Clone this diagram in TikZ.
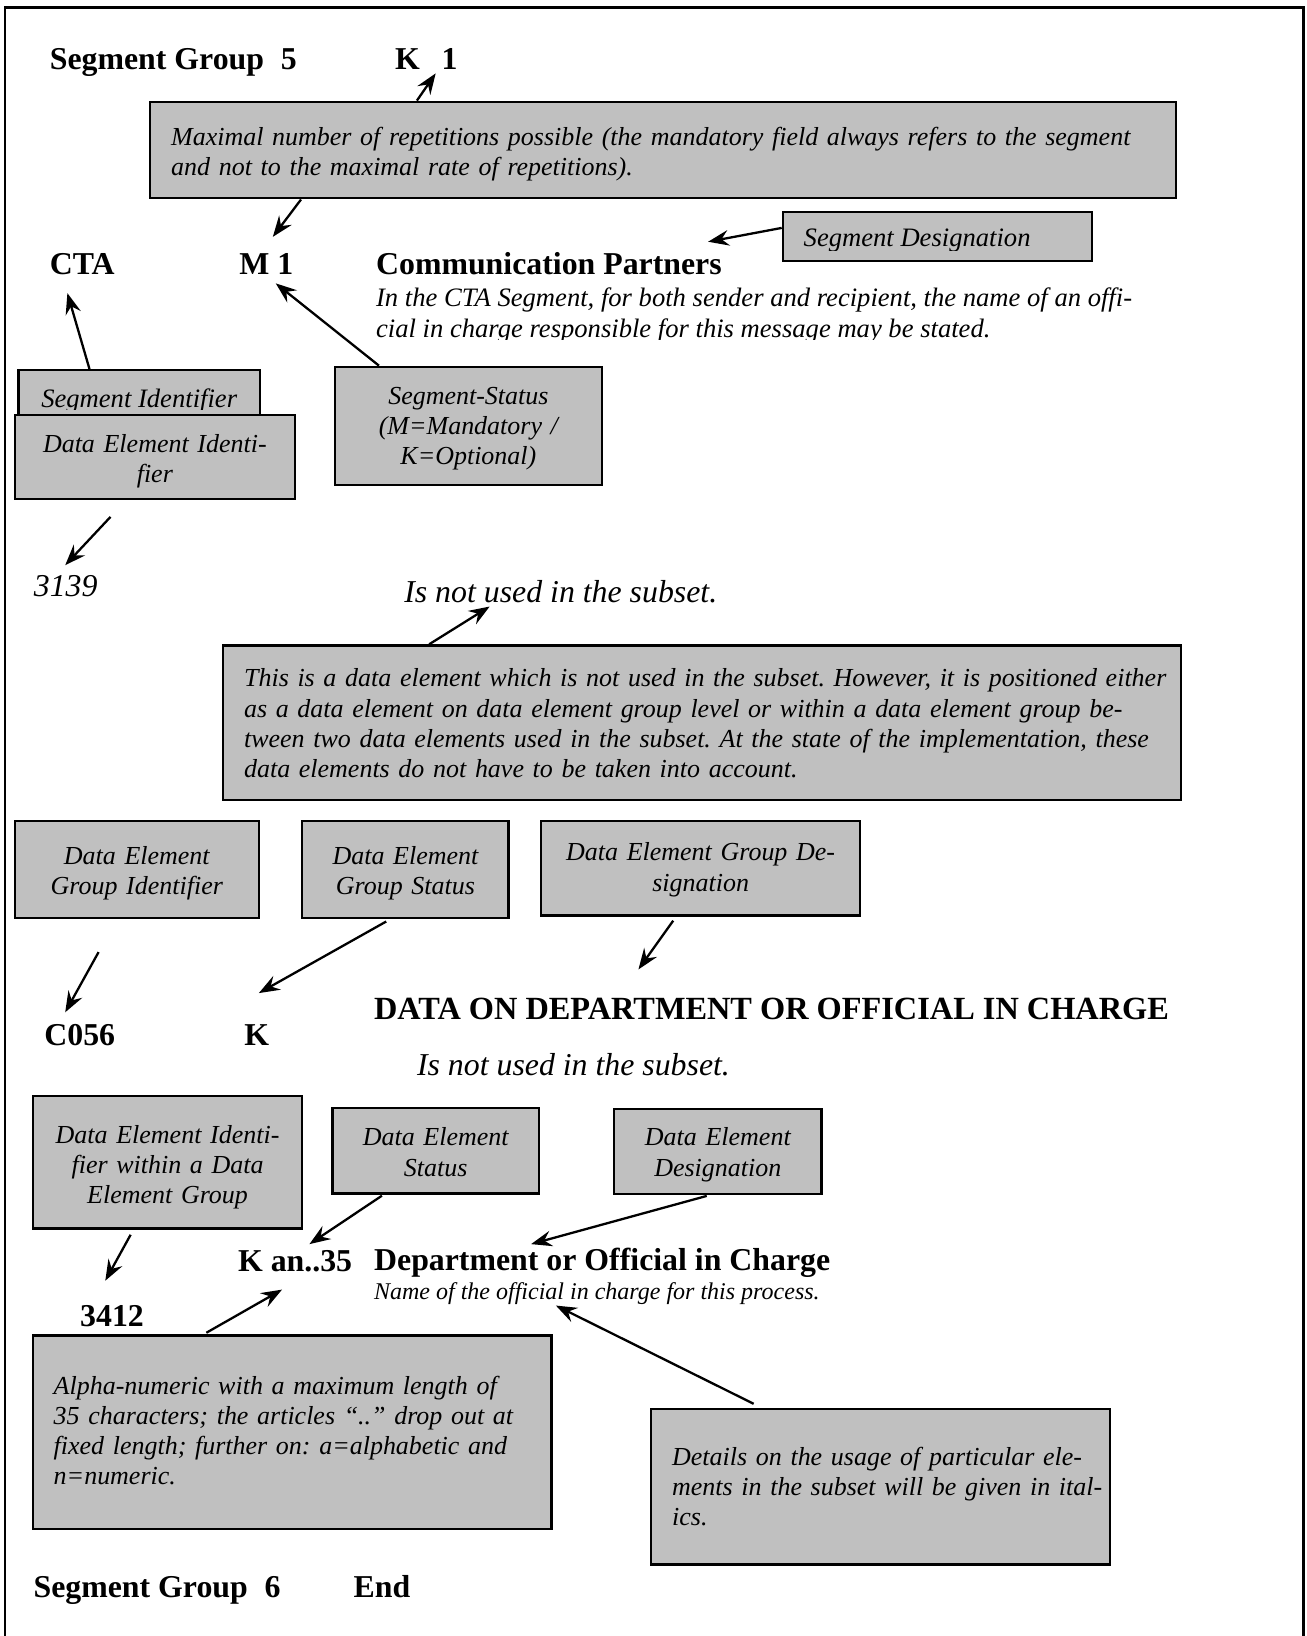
\documentclass[tikz,border=0pt]{standalone}
\usepackage{fontspec}
\setmainfont{Liberation Serif}
\usetikzlibrary{arrows.meta,calc}
\definecolor{boxgray}{RGB}{192,192,192}
\newcommand\hdfont{\fontsize{30.5pt}{34pt}\selectfont\bfseries}
\newcommand\bxfont{\fontsize{24.9pt}{29pt}\selectfont\itshape}
\newcommand\dsfont{\fontsize{25.5pt}{29pt}\selectfont\itshape}
\newcommand\bigitfont{\fontsize{30.5pt}{34pt}\selectfont\itshape}
\newcommand\smitfont{\fontsize{23pt}{27pt}\selectfont\itshape}
\frenchspacing
\tikzset{
  lbl/.style={inner sep=0pt, anchor=base west},
  hd/.style={lbl, font=\hdfont},
  bit/.style={lbl, font=\bigitfont},
  gbox/.style={draw, line width=2.2pt, fill=boxgray, inner sep=0pt, font=\bxfont, text height=30pt},
  cbox/.style={gbox, align=center},
  lbox/.style={gbox, align=left, inner xsep=20pt},
  ebox/.style={draw, line width=2.2pt, fill=boxgray, inner sep=0pt},
  arr/.style={line width=2.2pt, -{Stealth[length=20pt,width=15pt,inset=7pt]}},
  frame/.style={line width=2.5pt},
}
\begin{document}
\begin{tikzpicture}[x=1pt,y=-1pt]
\useasboundingbox (0,0) rectangle (1252,1568);
\draw[frame] (4.8,1570) -- (4.8,7) -- (1249.4,7) -- (1249.4,1570);

% ---------- top part ----------
\node[hd] (sg5) at (47.6,66.5) {Segment Group\hspace{8.5pt} 5};
\node[hd] (k) at (378.5,66.5) {K};
\node[hd] (one) at (423,66.5) {1};

\node[lbox, text width=943.2pt, minimum height=92.6pt, text depth=39.6pt] (box1) at (635.7,143.8)
  {\mbox{Maximal number of repetitions possible (the mandatory field always refers to the segment}\\
   \mbox{and not to the maximal rate of repetitions).}};

\node[hd] (cta) at (47.6,262.7) {CTA};
\node[hd] (m1) at (229.2,262.7) {M 1};
\node[hd] (commpart) at (360.3,262.7) {Communication Partners};
\node[lbl, font=\dsfont] (desc1) at (360.3,294) {In the CTA Segment, for both sender and recipient, the name of an offi-};
\begin{scope}
  \clip (350,300) rectangle (1200,325.3);
  \node[lbl, font=\dsfont] (desc2) at (360.3,323.4) {cial in charge responsible for this message may be stated.};
\end{scope}

\node[ebox, minimum width=296.2pt, minimum height=47.3pt] (segdes) at (898.4,226.6) {};
\begin{scope}
  \clip (760,205) rectangle (1040,239.7);
  \node[lbl, font=\dsfont] (segdestxt) at (770.1,236.5) {Segment Designation};
\end{scope}

\node[ebox, minimum width=231.3pt, minimum height=55.3pt] (segid) at (133.4,382.4) {};
\begin{scope}
  \clip (20,357) rectangle (246,392.5);
  \node[inner sep=0pt, anchor=base, font=\dsfont] (segidtxt) at (133.4,390.5) {Segment Identifier};
\end{scope}
\node[cbox, text width=248.6pt, minimum width=268.6pt, minimum height=80pt, text depth=38.8pt] (dei) at (148.4,438)
  {Data Element Identi-\\fier};

\node[cbox, text width=236.2pt, minimum width=256.2pt, minimum height=113.5pt, text depth=71.6pt] (segstat) at (448.9,408.3)
  {Segment-Status\\(M=Mandatory /\\K=Optional)};

\node[bit] (t3139) at (32.3,572) {3139};
\node[bit] (nu1) at (387.3,577.6) {Is not used in the subset.};

\node[lbox, text width=878.1pt, minimum height=148pt, text depth=98.6pt] (bigbox) at (673,692.6)
  {\mbox{This is a data element which is not used in the subset. However, it is positioned either}\\
   \mbox{as a data element on data element group level or within a data element group be-}\\
   \mbox{tween two data elements used in the subset. At the state of the implementation, these}\\
   \mbox{data elements do not have to be taken into account.}};

% ---------- middle part ----------
\node[cbox, text width=214pt, minimum width=234pt, minimum height=92.8pt, text depth=39.8pt] (degid) at (131.1,833.1)
  {Data Element\\Group Identifier};
\node[cbox, text width=177.7pt, minimum width=197.7pt, minimum height=92.8pt, text depth=39.8pt] (degstat) at (388.6,833.1)
  {Data Element\\Group Status};
\node[cbox, text width=286.1pt, minimum width=306.1pt, minimum height=90.6pt, text depth=43.6pt] (degdes) at (671.5,832)
  {Data Element Group De-\\signation};

\node[hd] (c056) at (42.4,1002.4) {C056};
\node[hd] (kk) at (234,1002.4) {K};
\node[lbl, font=\fontsize{31pt}{34pt}\selectfont\bfseries] (data) at (358.3,977.5) {DATA ON DEPARTMENT OR OFFICIAL IN CHARGE};
\node[bit] (nu2) at (399.5,1030.6) {Is not used in the subset.};

% ---------- lower part ----------
\node[cbox, text width=238.2pt, minimum width=258.2pt, minimum height=126.8pt, text depth=66.4pt] (deiwdeg) at (160.6,1114.1)
  {Data Element Identi-\\fier within a Data\\Element Group};
\node[cbox, text width=177.7pt, minimum width=197.7pt, minimum height=82pt, text depth=39.4pt] (destat) at (417.6,1103)
  {Data Element\\Status};
\node[cbox, text width=178.5pt, minimum width=198.5pt, minimum height=81pt, text depth=40.8pt] (dedes) at (688,1103.7)
  {Data Element\\Designation};

\node[hd] (kan) at (228,1219) {K an..35};
\node[hd] (dept) at (358.4,1218) {Department or Official in Charge};
\node[lbl, font=\smitfont] (name) at (358.4,1245.4) {Name of the official in charge for this process.};
\node[hd] (t3412) at (76.7,1271.7) {3412};

\node[lbox, text width=457pt, minimum height=185.3pt, text depth=103pt] (alpha) at (280,1372.7)
  {\mbox{Alpha-numeric with a maximum length of}\\
   \mbox{35 characters; the articles “..” drop out at}\\
   \mbox{fixed length; further on: a=alphabetic and}\\
   \mbox{n=numeric.}};
\node[lbox, text width=399.5pt, minimum height=148.9pt, text depth=71.4pt] (details) at (844,1425)
  {\mbox{Details on the usage of particular ele-}\\
   \mbox{ments in the subset will be given in ital-}\\
   \mbox{ics.}};

\node[hd] (sg6) at (32,1530.7) {Segment Group\hspace{8.5pt} 6};
\node[hd] (endtxt) at (338.7,1530.7) {End};

% ---------- connectors ----------
\draw[arr] ($(box1.north west)+(256.6,0)$) -- ($(k.base west)+(39.1,3.8)$);
\draw[arr] ($(box1.south west)+(145.5,0)$) -- ($(m1.base west)+(32.3,-35.7)$);
\draw[arr] ($(segdes.north west)+(0,16.6)$) -- ($(commpart.base west)+(318.4,-31)$);
\draw[arr] ($(segid.north west)+(69.1,0)$) -- ($(cta.base west)+(17,18.3)$);
\draw[arr] ($(segstat.north west)+(43.5,0)$) -- ($(m1.base west)+(35.1,8.9)$);
\draw[arr] ($(dei.south west)+(92.9,16.3)$) -- ($(t3139.base west)+(30.2,-30.3)$);
\draw[arr] ($(bigbox.north west)+(198.5,0)$) -- ($(nu1.base west)+(82,3.7)$);
\draw[arr] ($(degid.south west)+(81.5,31.9)$) -- ($(c056.base west)+(20.1,-32.2)$);
\draw[arr] ($(degstat.south west)+(81.5,2.6)$) -- ($(kk.base west)+(14.1,-50.6)$);
\draw[arr] ($(degdes.south west)+(127.9,4)$) -- ($(data.base west)+(253.6,-48.4)$);
\draw[arr] ($(deiwdeg.south west)+(94.8,4.8)$) -- ($(t3412.base west)+(24.2,-44.2)$);
\draw[arr] ($(destat.south west)+(48.4,0.9)$) -- ($(kan.base west)+(68.6,-26.6)$);
\draw[arr] ($(dedes.south west)+(89.7,0.9)$) -- ($(dept.base west)+(150.6,-25.6)$);
\draw[arr] ($(alpha.north west)+(167.4,-1.6)$) -- ($(kan.base west)+(42.3,17)$);
\draw[arr] ($(details.north west)+(99.2,-4)$) -- ($(name.base west)+(174.4,5.9)$);
\end{tikzpicture}
\end{document}
